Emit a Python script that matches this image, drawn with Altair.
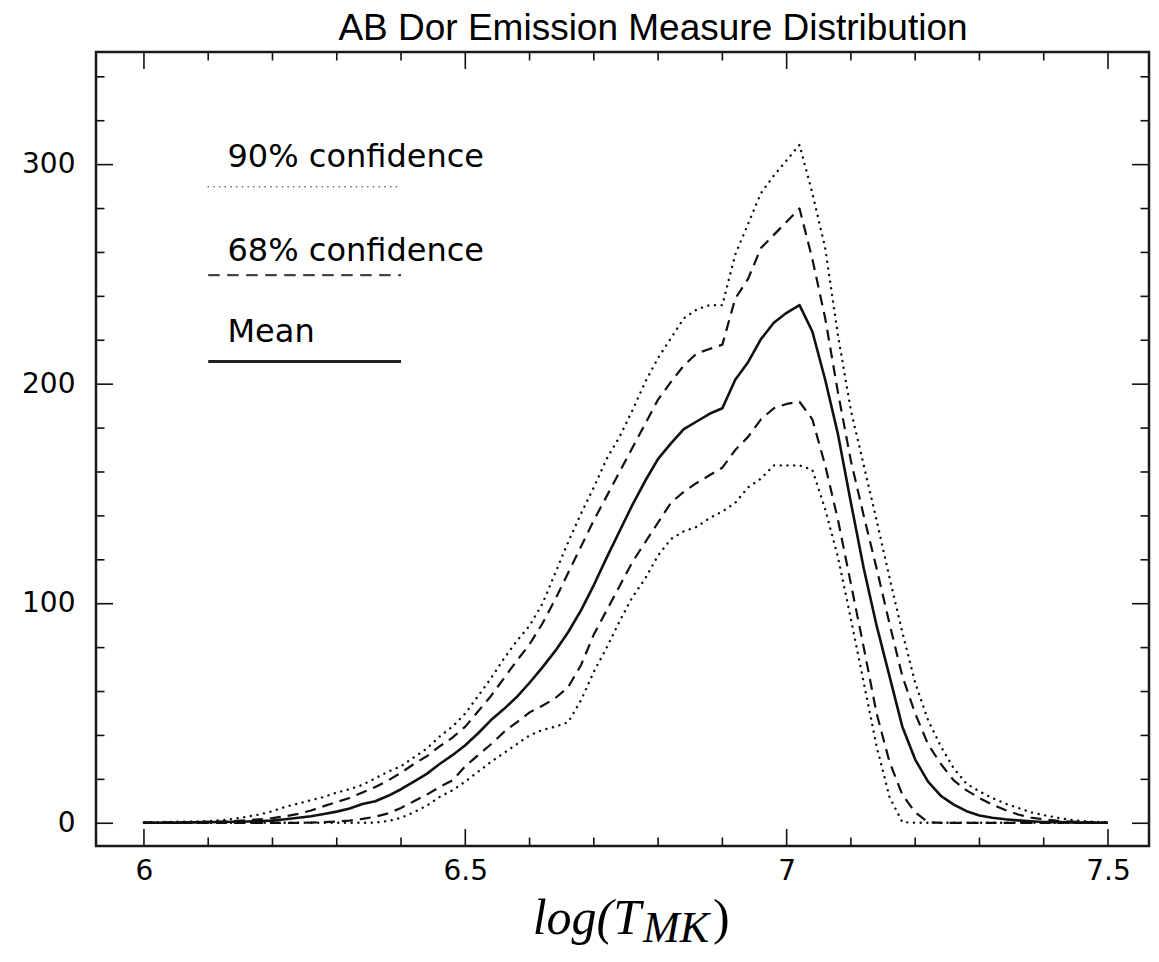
import altair as alt
import pandas as pd

# ---------------- data ----------------
log_t = [6.00, 6.02, 6.04, 6.06, 6.08, 6.10, 6.12, 6.14, 6.16, 6.18,
         6.20, 6.22, 6.24, 6.26, 6.28, 6.30, 6.32, 6.34, 6.36, 6.38,
         6.40, 6.42, 6.44, 6.46, 6.48, 6.50, 6.52, 6.54, 6.56, 6.58,
         6.60, 6.62, 6.64, 6.66, 6.68, 6.70, 6.72, 6.74, 6.76, 6.78,
         6.80, 6.82, 6.84, 6.86, 6.88, 6.90, 6.92, 6.94, 6.96, 6.98,
         7.00, 7.02, 7.04, 7.06, 7.08, 7.10, 7.12, 7.14, 7.16, 7.18,
         7.20, 7.22, 7.24, 7.26, 7.28, 7.30, 7.32, 7.34, 7.36, 7.38,
         7.40, 7.42, 7.44, 7.46, 7.48, 7.50]

mean_em = [0.2, 0.2, 0.3, 0.3, 0.4, 0.5, 0.6, 0.7, 0.8, 1.0,
           1.2, 1.8, 2.5, 3.2, 4.2, 5.3, 6.7, 8.8, 10.0, 12.5,
           15.5, 19.0, 22.5, 27.0, 31.0, 35.5, 41.0, 47.0, 52.0, 57.5,
           64.0, 71.0, 78.5, 87.0, 97.0, 108.5, 121.0, 133.0, 145.0, 156.0,
           166.0, 173.0, 179.5, 183.0, 186.5, 189.0, 202.0, 210.0, 220.5, 228.0,
           232.5, 236.0, 224.0, 202.0, 177.0, 146.0, 116.0, 90.0, 67.0, 44.0,
           29.0, 19.0, 12.5, 8.5, 5.5, 3.5, 2.5, 1.8, 1.3, 0.9,
           0.6, 0.5, 0.4, 0.3, 0.2, 0.2]

upper_68 = [0.3, 0.3, 0.4, 0.4, 0.5, 0.6, 0.8, 1.0, 1.4, 1.8,
            2.3, 3.2, 4.3, 5.8, 7.8, 9.7, 11.5, 14.0, 16.5, 19.5,
            23.0, 27.0, 30.5, 35.0, 39.0, 44.0, 51.0, 58.0, 66.0, 74.0,
            81.5, 91.0, 102.0, 114.0, 126.0, 138.0, 149.0, 160.0, 171.0, 182.0,
            193.0, 201.0, 208.5, 214.0, 216.0, 218.0, 239.0, 248.0, 262.0, 268.0,
            274.0, 280.0, 257.0, 230.0, 196.0, 165.0, 140.0, 116.0, 91.0, 67.0,
            50.0, 36.0, 27.0, 19.5, 15.0, 11.5, 8.5, 6.0, 4.0, 2.6,
            1.8, 1.2, 0.8, 0.5, 0.4, 0.3]

lower_68 = [0.2, 0.2, 0.2, 0.2, 0.2, 0.2, 0.2, 0.2, 0.2, 0.2,
            0.2, 0.2, 0.2, 0.3, 0.5, 0.8, 1.2, 2.0, 3.0, 4.5,
            7.0, 10.0, 13.0, 16.5, 19.5, 26.0, 31.0, 36.0, 41.5, 46.0,
            50.5, 53.5, 57.0, 62.0, 72.0, 86.0, 97.0, 108.0, 119.0, 128.0,
            137.0, 146.0, 151.0, 155.0, 158.5, 162.0, 170.0, 176.0, 184.0, 189.0,
            191.0, 192.0, 184.0, 163.0, 138.0, 109.0, 80.0, 50.0, 28.0, 13.0,
            5.0, 0.5, 0.2, 0.2, 0.2, 0.2, 0.2, 0.2, 0.2, 0.2,
            0.2, 0.2, 0.2, 0.2, 0.2, 0.2]

upper_90 = [0.4, 0.5, 0.6, 0.7, 0.8, 1.0, 1.4, 2.0, 3.0, 4.0,
            5.5, 7.5, 9.0, 10.5, 12.0, 14.0, 15.5, 17.5, 20.5, 23.5,
            26.0, 30.0, 34.0, 39.5, 44.0, 50.0, 58.0, 66.0, 75.0, 83.0,
            90.0, 100.0, 114.0, 128.0, 141.0, 153.0, 166.0, 176.0, 188.0, 201.0,
            212.0, 221.0, 230.0, 234.0, 236.0, 236.0, 259.0, 273.0, 287.0, 295.0,
            302.0, 309.0, 287.0, 262.0, 222.0, 188.0, 163.0, 138.0, 112.0, 87.0,
            64.0, 47.0, 35.0, 25.0, 18.0, 14.5, 11.5, 9.0, 7.0, 5.0,
            3.7, 2.6, 1.6, 1.0, 0.6, 0.4]

lower_90 = [0.2, 0.2, 0.2, 0.2, 0.2, 0.2, 0.2, 0.2, 0.2, 0.2,
            0.2, 0.2, 0.2, 0.2, 0.2, 0.2, 0.2, 0.2, 0.3, 1.0,
            2.5, 5.0, 8.0, 12.0, 15.0, 19.0, 23.5, 28.0, 32.0, 36.0,
            40.0, 42.5, 44.0, 46.0, 56.0, 69.0, 80.0, 92.0, 103.0, 111.5,
            122.0, 129.5, 133.0, 135.0, 139.0, 142.0, 146.0, 153.0, 157.0, 163.0,
            163.0, 163.0, 161.0, 143.0, 121.0, 93.0, 64.0, 35.0, 12.0, 0.5,
            0.2, 0.2, 0.2, 0.2, 0.2, 0.2, 0.2, 0.2, 0.2, 0.2,
            0.2, 0.2, 0.2, 0.2, 0.2, 0.2]

x_major_ticks = [6.0, 6.5, 7.0, 7.5]
x_minor_ticks = [6.1, 6.2, 6.3, 6.4, 6.6, 6.7, 6.8, 6.9, 7.1, 7.2, 7.3, 7.4]
y_major_ticks = [0, 100, 200, 300]
y_minor_ticks = [20, 40, 60, 80, 120, 140, 160, 180, 220, 240, 260, 280, 320, 340]

title_text = "AB Dor Emission Measure Distribution"
legend_labels = ["90% confidence", "68% confidence", "Mean"]
legend_keys = ["dotted", "dashed", "solid"]
legend_text_y = [299.0, 256.0, 219.4]
legend_line_y = [289.9, 249.7, 210.3]
legend_line_x = [6.10, 6.40]
legend_text_x = 6.13

# ---------------- tables ----------------
rows = []
for name, vals in [("mean", mean_em), ("upper_68", upper_68), ("lower_68", lower_68),
                   ("upper_90", upper_90), ("lower_90", lower_90)]:
    for x, v in zip(log_t, vals):
        rows.append({"logT": x, "em": v, "series": name})
curves = pd.DataFrame(rows)

leg_lines = pd.DataFrame([{"logT": x, "em": y, "key": k}
                          for k, y in zip(legend_keys, legend_line_y)
                          for x in legend_line_x])
leg_text = pd.DataFrame({"logT": [legend_text_x] * 3, "em": legend_text_y,
                         "label": legend_labels})

W, H = 1053, 794
xs = alt.Scale(domain=[5.9254, 7.5638], nice=False, zero=False)
ys = alt.Scale(domain=[-10.36, 351.3], nice=False, zero=False)
INK = "#111111"

# one shared axis definition for every layer (so layered axes merge)
XAX = alt.Axis(values=x_major_ticks, format="~g", ticks=False, domain=False,
               grid=False, labelFont="DejaVu Sans", labelFontSize=28,
               labelColor="black", labelPadding=11, title=None)
YAX = alt.Axis(values=y_major_ticks, format="d", ticks=False, domain=False,
               grid=False, labelFont="DejaVu Sans", labelFontSize=28,
               labelColor="black", labelPadding=21, title=None)


def X(field):
    return alt.X(field, scale=xs, axis=XAX)


def Y(field):
    return alt.Y(field, scale=ys, axis=YAX)


def curve_layer(names, width, dash=None, cap="butt"):
    mk = dict(color=INK, strokeWidth=width, strokeCap=cap, strokeJoin="round")
    if dash is not None:
        mk["strokeDash"] = dash
    return (alt.Chart(curves)
            .transform_filter(alt.FieldOneOfPredicate(field="series", oneOf=names))
            .mark_line(**mk)
            .encode(x=X("logT:Q"), y=Y("em:Q"), detail="series:N", order="logT:Q"))


mean_layer = curve_layer(["mean"], 2.6)
dash_layer = curve_layer(["upper_68", "lower_68"], 2.2, dash=[11, 7])
dot_layer = curve_layer(["upper_90", "lower_90"], 2.4, dash=[0.1, 6.6], cap="round")


# inward ticks on all four sides
def xticks(vals, length):
    d = pd.DataFrame({"t": vals})
    bottom = alt.Chart(d).mark_rule(color=INK, strokeWidth=1.6).encode(
        x=X("t:Q"), y=alt.value(H), y2=alt.value(H - length))
    top = alt.Chart(d).mark_rule(color=INK, strokeWidth=1.6).encode(
        x=X("t:Q"), y=alt.value(0), y2=alt.value(length))
    return [bottom, top]


def yticks(vals, length):
    d = pd.DataFrame({"t": vals})
    left = alt.Chart(d).mark_rule(color=INK, strokeWidth=1.6).encode(
        y=Y("t:Q"), x=alt.value(0), x2=alt.value(length))
    right = alt.Chart(d).mark_rule(color=INK, strokeWidth=1.6).encode(
        y=Y("t:Q"), x=alt.value(W), x2=alt.value(W - length))
    return [left, right]


tick_layers = (xticks(x_major_ticks, 17) + xticks(x_minor_ticks, 8.5)
               + yticks(y_major_ticks, 17) + yticks(y_minor_ticks, 8.5))


# legend (drawn inside the plot)
def leg_line(key, color, width, dash=None, cap="butt"):
    mk = dict(color=color, strokeWidth=width, strokeCap=cap)
    if dash is not None:
        mk["strokeDash"] = dash
    return (alt.Chart(leg_lines)
            .transform_filter(alt.FieldEqualPredicate(field="key", equal=key))
            .mark_line(**mk)
            .encode(x=X("logT:Q"), y=Y("em:Q")))


leg_layers = [
    leg_line("dotted", "#555555", 1.6, dash=[0.1, 5.6], cap="round"),
    leg_line("dashed", "#444444", 2.2, dash=[11.5, 7.5]),
    leg_line("solid", "#222222", 3.0),
    alt.Chart(leg_text).mark_text(align="left", baseline="alphabetic", font="DejaVu Sans",
                                  fontSize=32, color="black").encode(
        x=X("logT:Q"), y=Y("em:Q"), text="label:N"),
]

# title and x-axis title log(T_MK) (composed with a subscript) as text
one = pd.DataFrame({"a": [0]})
title_layer = alt.Chart(one).mark_text(
    text=title_text, align="center", baseline="alphabetic", font="Liberation Sans",
    fontSize=37, color="black").encode(x=alt.value(557), y=alt.value(-12))
xt1 = alt.Chart(one).mark_text(
    text="log(T", align="right", baseline="alphabetic", font="Liberation Serif",
    fontStyle="italic", fontSize=50, color="black").encode(x=alt.value(545), y=alt.value(882))
xt2 = alt.Chart(one).mark_text(
    text="MK", align="left", baseline="alphabetic", font="Liberation Serif",
    fontStyle="italic", fontSize=44, color="black").encode(x=alt.value(547), y=alt.value(890))
xt3 = alt.Chart(one).mark_text(
    text=")", align="left", baseline="alphabetic", font="Liberation Serif",
    fontSize=50, color="black").encode(x=alt.value(617), y=alt.value(882))

chart = alt.layer(
    mean_layer, dash_layer, dot_layer, *tick_layers, *leg_layers,
    title_layer, xt1, xt2, xt3
).properties(
    width=W, height=H,
    autosize=alt.AutoSizeParams(type="none"),
    padding={"left": 88, "top": 44, "right": 2, "bottom": 108},
    background="white",
).configure_view(stroke="#1a1a1a", strokeWidth=2.5)

chart.save("out.html", embed_options={"renderer": "svg", "actions": False})
